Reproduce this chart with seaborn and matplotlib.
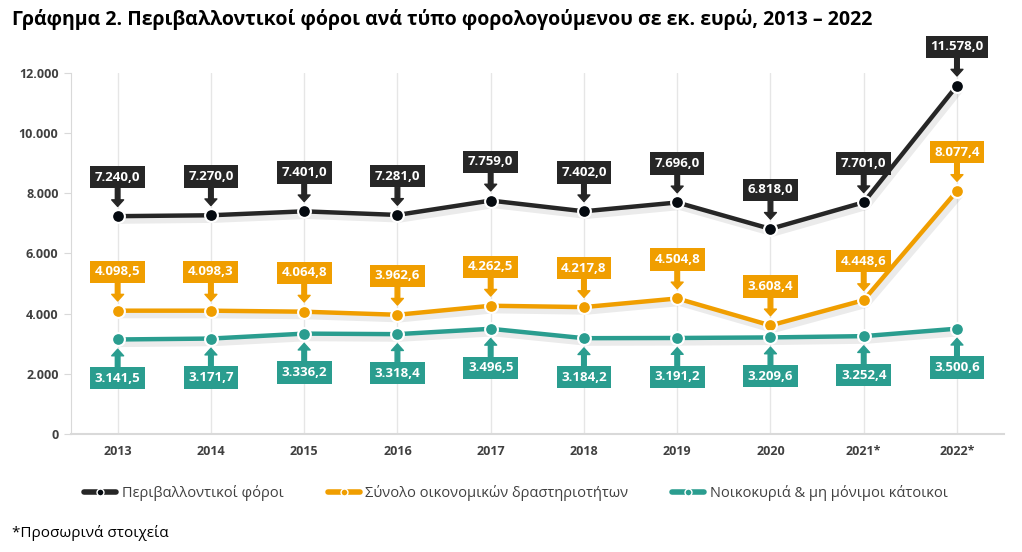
import pandas as pd
import numpy as np
import seaborn as sns
import matplotlib.pyplot as plt
import matplotlib.patheffects as pe

# Data
years = ['2013', '2014', '2015', '2016', '2017', '2018', '2019', '2020', '2021*', '2022*']
env_taxes = [7240.0, 7270.0, 7401.0, 7281.0, 7759.0, 7402.0, 7696.0, 6818.0, 7701.0, 11578.0]
economic = [4098.5, 4098.3, 4064.8, 3962.6, 4262.5, 4217.8, 4504.8, 3608.4, 4448.6, 8077.4]
households = [3141.5, 3171.7, 3336.2, 3318.4, 3496.5, 3184.2, 3191.2, 3209.6, 3252.4, 3500.6]

series_names = ['Περιβαλλοντικοί φόροι', 'Σύνολο οικονομικών δραστηριοτήτων',
                'Νοικοκυριά & μη μόνιμοι κάτοικοι']
colors = ['#262626', '#F09E00', '#2A9D8F']
marker_colors = ['#050A10', '#F09E00', '#2A9D8F']

df = pd.DataFrame({
    'year': years * 3,
    'value': env_taxes + economic + households,
    'series': np.repeat(series_names, len(years)),
})
df['x'] = df.groupby('series').cumcount()

sns.set_style('white')
plt.rcParams['font.family'] = ['Open Sans', 'DejaVu Sans']

fig = plt.figure(figsize=(10.22, 5.52), dpi=100)
ax = fig.add_axes([0.0695, 0.2138, 0.9125, 0.654])

shadow = [pe.SimpleLineShadow(offset=(2, -3), alpha=0.08, linewidth=5), pe.Normal()]
sns.lineplot(data=df, x='x', y='value', hue='series', palette=colors, ax=ax,
             linewidth=3.2, legend=False, path_effects=shadow)
for name, mc in zip(series_names, marker_colors):
    sub = df[df['series'] == name]
    ax.scatter(sub['x'], sub['value'], s=85, color=mc, edgecolor='white',
               linewidth=1.5, zorder=4)


def fmt(v):
    s = f"{v:,.1f}"
    return s.replace(',', 'X').replace('.', ',').replace('X', '.')


for name, col in zip(series_names, colors):
    sub = df[df['series'] == name]
    below = name == series_names[2]
    for xi, v in zip(sub['x'], sub['value']):
        off = -28 if below else 28
        ax.annotate(fmt(v), xy=(xi, v), xytext=(0, off), textcoords='offset points',
                    ha='center', va='center', fontsize=9.5, fontweight='bold', color='white',
                    bbox=dict(boxstyle='square,pad=0.35', fc=col, ec='none'),
                    arrowprops=dict(arrowstyle='simple,head_width=0.9,head_length=0.5,tail_width=0.35',
                                    color=col, shrinkA=0, shrinkB=7),
                    zorder=5)

ax.set_xlim(-0.5, len(years) - 0.5)
ax.set_ylim(0, 12000)
ax.set_xticks(range(len(years)))
ax.set_xticklabels(years)
ax.set_yticks(range(0, 12001, 2000))
ax.set_yticklabels([f"{t:,}".replace(',', '.') for t in range(0, 12001, 2000)])
ax.tick_params(axis='both', labelsize=9, labelcolor='#404040', length=0, pad=8)
ax.tick_params(axis='y', length=5, color='#D9D9D9', direction='out', left=True, pad=4)
for lbl in ax.get_xticklabels() + ax.get_yticklabels():
    lbl.set_fontweight('bold')
ax.grid(axis='x', color='#E6E6E6', linewidth=1)
ax.set_axisbelow(True)
for s in ['top', 'right']:
    ax.spines[s].set_visible(False)
ax.spines['left'].set_color('#D9D9D9')
ax.spines['bottom'].set_color('#D9D9D9')
ax.spines['bottom'].set_linewidth(1.5)
ax.set_xlabel('')
ax.set_ylabel('')

handles = [plt.Line2D([0], [0], color=c, lw=4, marker='o', markersize=5,
                      markerfacecolor=mc, markeredgecolor='white')
           for c, mc in zip(colors, marker_colors)]
fig.legend(handles, series_names, loc='center', bbox_to_anchor=(0.505, 0.107), ncol=3,
           frameon=False, fontsize=10.5, handlelength=2.2, columnspacing=3,
           handletextpad=0.4, labelcolor='#404040')

fig.text(0.012, 0.965, 'Γράφημα 2. Περιβαλλοντικοί φόροι ανά τύπο φορολογούμενου σε εκ. ευρώ, 2013 – 2022',
         fontsize=14, fontweight='bold', ha='left', va='center', color='black')
fig.text(0.012, 0.035, '*Προσωρινά στοιχεία', fontsize=11, ha='left', va='center', color='black')

fig.savefig('out.png', dpi=100)
